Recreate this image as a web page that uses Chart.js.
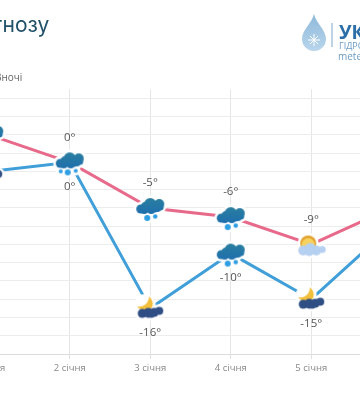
<!DOCTYPE html>
<html lang="uk"><head><meta charset="utf-8">
<script src="https://cdn.jsdelivr.net/npm/chart.js@4"></script>
<style>
html,body{margin:0;padding:0;background:#fff;width:360px;height:400px;overflow:hidden}
#wrap{position:relative;width:360px;height:400px;overflow:hidden}
#c{position:absolute;left:-68px;top:0}
.t{position:absolute;white-space:nowrap;line-height:1}
svg{position:absolute;left:301px;top:13px}
</style></head><body>
<div id="wrap">
<canvas id="c" width="517" height="400" style="width:517px;height:400px"></canvas>
<div class="t" style="left:-7px;top:12px;font:21px Inter,sans-serif;color:#1f5068">гнозу</div>
<div class="t" style="left:-5px;top:70px;font:10px 'Open Sans',sans-serif;color:#666">Вночі</div>
<svg width="36" height="42" viewBox="0 0 36 42">
<defs><linearGradient id="g" x1="0" y1="0" x2="0" y2="1"><stop offset="0" stop-color="#8db8da"/><stop offset="1" stop-color="#b9d6ec"/></linearGradient></defs>
<path d="M13 1 C15 10 25 17 25 26 A12 12 0 0 1 1 26 C1 17 11 10 13 1Z" fill="url(#g)"/>
<path d="M13 21V33M7 27H19M9 23L17 31M17 23L9 31" stroke="#fff" stroke-width="1"/>
<rect x="30.5" y="10" width="1" height="24" fill="#7fa9c9"/>
</svg>
<div class="t" style="left:339px;top:19px;font:bold 19px 'Open Sans',sans-serif;color:#2c6fa8">УК</div>
<div class="t" style="left:339px;top:39px;font:9px 'Open Sans',sans-serif;color:#6d9cc2">ГІДРО</div>
<div class="t" style="left:338px;top:49px;font:10px 'Open Sans',sans-serif;color:#6d9cc2">mete</div>
</div>
<script>
const categories = ['1 січня','2 січня','3 січня','4 січня','5 січня','6 січня'];
const dayTemps = [3,0,-5,-6,-9,-5];
const nightTemps = [-1,0,-16,-10,-15,-7];
const dayIcons = ['snow3','snow3','snow2','snow2','sun','sun'];
const nightIcons = ['moon','snow3','moon','snow2','moon','moon'];
const gridValues = [7,5,3,1,-1,-3,-5,-7,-9,-11,-13,-15,-17,-19,-21];
const yMin = -21, yMax = 8;

function makeIcon(kind){
  const s=document.createElement('canvas'); s.width=s.height=48;
  const g=s.getContext('2d'); g.translate(24,24);
  const fillB=(arr,fill,extra)=>{
    g.fillStyle=fill;
    arr.forEach(b=>{g.beginPath();g.arc(b[0],b[1],b[2]+(extra||0),0,7);g.fill();});
  };
  if(kind==='snow3'||kind==='snow2'){
    const fl = kind==='snow3'?[[-9,9,2],[-2,10,3],[6,8.5,2]]:[[-3,10,3],[5,8.5,2.2]];
    const cl=[[-9.5,1,4.5],[-4,-1,5.5],[0,-4,6],[4,-1,5.5],[9,-4,5],[-6,2,4],[1,2,4],[7,0,4],[10,-1,3.5]];
    fillB(cl,'#fff',2.5);
    fillB(fl,'#fff',2.5);
    const gr=g.createLinearGradient(0,-10,0,6);gr.addColorStop(0,'#2b7f9f');gr.addColorStop(1,'#1f6fae');
    fillB(cl,gr);
    fillB(fl,'#2f9fe3');
  } else if(kind==='moon'){
    const cl=[[-8,5,4.5],[-2,4.5,5],[4,4,4.5],[9,2.5,4],[1,6,3.5]];
    fillB(cl,'#fff',2.5);
    fillB([[-5,-4,8]],'#fff',2.5);
    g.fillStyle='#f2bf3c';g.beginPath();
    g.moveTo(-1,-12);
    g.bezierCurveTo(5,-6,3,2,-4,2);
    g.bezierCurveTo(-8,2,-11,1,-13,-2);
    g.bezierCurveTo(-6,-1,-2,-5,-1,-12);
    g.fill();
    fillB(cl,'#2f4f84');
  } else {
    const cl=[[-8,6,5],[-1,4,5.5],[5,6,5],[11,5,3.5],[-2,7,4.5]];
    fillB([[-3,-1,8]],'#fff',2.5);
    fillB(cl,'#fff',2.5);
    g.fillStyle='#e0a22e';g.beginPath();g.arc(-3,-1,8,0,7);g.fill();
    g.fillStyle='#f7d25e';g.beginPath();g.arc(-3,0,6.5,0,7);g.fill();
    fillB(cl,'#b5d0f0');
  }
  return s;
}
const iconSet={snow3:makeIcon('snow3'),snow2:makeIcon('snow2'),moon:makeIcon('moon'),sun:makeIcon('sun')};

const tempLabels={id:'tempLabels',afterDatasetsDraw(ch){
  const x=ch.ctx;x.save();
  x.font="11.5px 'Open Sans',sans-serif";x.fillStyle='#555';x.textAlign='center';x.textBaseline='middle';
  ch.data.datasets.forEach((d,i)=>{
    const m=ch.getDatasetMeta(i);
    m.data.forEach((p,j)=>x.fillText(d.data[j]+'°',p.x,p.y+d.labelShift));
  });
  x.restore();
}};

new Chart(document.getElementById('c'),{
  type:'line',
  data:{labels:categories,datasets:[
    {label:'Вночі',data:nightTemps,borderColor:'#409fd8',borderWidth:3,tension:0,labelShift:24.5,
     pointRadius:14,pointStyle:c=>iconSet[nightIcons[c.dataIndex]],clip:false},
    {label:'Вдень',data:dayTemps,borderColor:'#e76a8b',borderWidth:3,tension:0,labelShift:-25,
     pointRadius:14,pointStyle:c=>iconSet[dayIcons[c.dataIndex]],clip:false}
  ]},
  options:{
    responsive:false,animation:false,events:[],
    layout:{padding:{left:0,right:0,top:89.3,bottom:0}},
    plugins:{legend:{display:false},tooltip:{enabled:false}},
    scales:{
      x:{offset:true,
        afterFit(a){a.height=46;},
        grid:{offset:false,color:'#e6e6e6',lineWidth:1,tickLength:5,tickColor:'#e0e0e0'},
        border:{color:'#dcdcdc'},
        ticks:{color:'#888',font:{family:"'Open Sans',sans-serif",size:9.5},padding:4,maxRotation:0,autoSkip:false}},
      y:{min:yMin,max:yMax,
        afterBuildTicks(a){a.ticks=gridValues.map(v=>({value:v}));},
        afterFit(a){a.width=0;},
        grid:{color:'#ececec',lineWidth:1,drawTicks:false},
        border:{display:false},
        ticks:{display:false}}
    }
  },
  plugins:[tempLabels]
});
</script>
</body></html>
